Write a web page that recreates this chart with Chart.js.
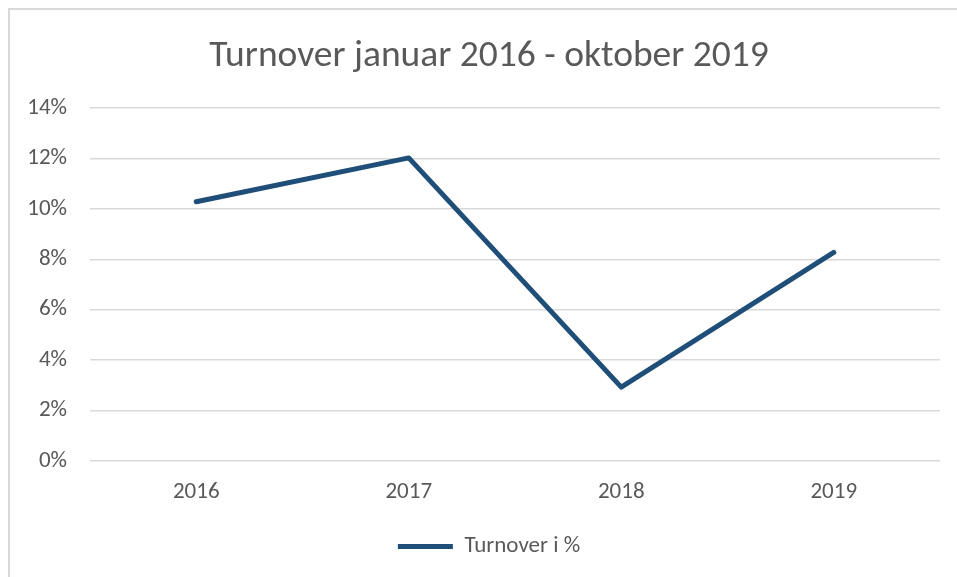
<!DOCTYPE html>
<html>
<head>
<meta charset="utf-8">
<script src="https://cdn.jsdelivr.net/npm/chart.js@4"></script>
<style>
  html, body { margin: 0; padding: 0; background: #fff; }
  #wrap { position: relative; width: 957px; height: 577px; overflow: hidden; }
  #frame { position: absolute; left: 8px; top: 8px; width: 1000px; height: 600px;
           border-top: 2px solid #d9d9d9; border-left: 2px solid #d9d9d9; box-sizing: border-box; }
  canvas { position: absolute; left: 0; top: 0; }
</style>
</head>
<body>
<div id="wrap">
  <div id="frame"></div>
  <canvas id="turnover-chart" width="957" height="577"></canvas>
</div>
<script>
const years = ['2016', '2017', '2018', '2019'];
const turnoverPct = [10.28, 12.02, 2.93, 8.27];
const seriesName = 'Turnover i %';
const chartTitle = 'Turnover januar 2016 - oktober 2019';

const textGrey = '#595959';
const lineBlue = '#1f4e79';
const fontFamily = "Calibri, Carlito, 'Open Sans', sans-serif";

let turnoverChartInstance;

// title and legend are centred on the framed area, which runs past the right edge
const shiftTitleLegend = {
  id: 'shiftTitleLegend',
  afterLayout(chart) {
    [chart.titleBlock, chart.legend].forEach(b => {
      if (!b) return;
      b.left += 15;
      b.right += 15;
    });
  }
};

function renderTurnoverChart() {
  const ctx = document.getElementById('turnover-chart').getContext('2d');
  if (turnoverChartInstance) turnoverChartInstance.destroy();
  turnoverChartInstance = new Chart(ctx, {
    type: 'line',
    data: {
      labels: years,
      datasets: [{
        label: seriesName,
        data: turnoverPct,
        borderColor: lineBlue,
        backgroundColor: lineBlue,
        borderWidth: 5,
        pointRadius: 0,
        tension: 0,
        borderCapStyle: 'round',
        borderJoinStyle: 'round'
      }]
    },
    options: {
      responsive: false,
      animation: false,
      layout: { padding: { left: 8, right: 17, top: 18, bottom: 9 } },
      plugins: {
        title: {
          display: true,
          text: chartTitle,
          color: textGrey,
          font: { family: fontFamily, size: 37.5, weight: 'normal', lineHeight: 1.2 },
          padding: { top: 16, bottom: 29 }
        },
        legend: {
          position: 'bottom',
          labels: {
            color: textGrey,
            font: { family: fontFamily, size: 23 },
            boxWidth: 55,
            boxHeight: 5,
            padding: 10,
            generateLabels(chart) {
              return Chart.defaults.plugins.legend.labels.generateLabels(chart).map(l => {
                l.lineWidth = 0;
                l.fillStyle = lineBlue;
                return l;
              });
            }
          }
        },
        tooltip: { enabled: false }
      },
      scales: {
        x: {
          offset: true,
          afterFit(scale) { scale.height = 64; },
          grid: { display: false, drawTicks: false },
          border: { display: false },
          ticks: { color: textGrey, font: { family: fontFamily, size: 23 }, padding: 17 }
        },
        y: {
          min: 0,
          max: 14,
          afterFit(scale) { scale.width = 82; },
          grid: { color: '#d9d9d9', lineWidth: 1.5, drawTicks: false },
          border: { display: false },
          ticks: {
            stepSize: 2,
            color: textGrey,
            font: { family: fontFamily, size: 23 },
            padding: 23,
            callback: v => v + '%'
          }
        }
      }
    },
    plugins: [shiftTitleLegend]
  });
}

renderTurnoverChart();
</script>
</body>
</html>
